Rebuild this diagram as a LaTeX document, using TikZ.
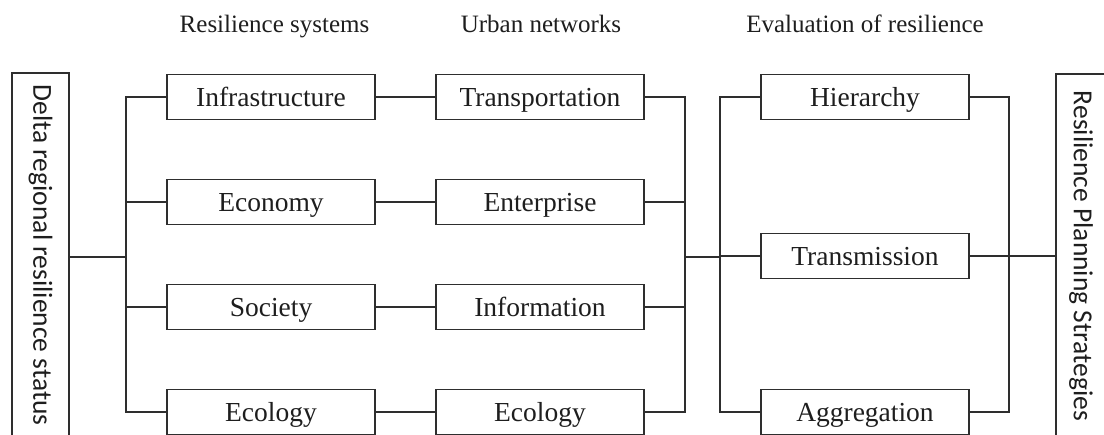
\documentclass[tikz,border=0pt]{standalone}
\usepackage{fontspec}
\setmainfont{Liberation Serif}
\newfontfamily\sidefont{Carlito}
\definecolor{ink}{HTML}{1E1E1E}
\definecolor{edge}{HTML}{2E2E2E}
\begin{document}
\begin{tikzpicture}[x=1pt,y=-1pt,
  box/.style={draw=edge,line width=1.8pt,minimum width=208pt,minimum height=45pt,
    inner sep=0pt,text height=18.2pt,text depth=0pt,
    font=\fontsize{27.5}{30}\selectfont,text=ink},
  sidebox/.style={draw=edge,line width=1.8pt,rotate=-90,inner sep=0pt,
    font=\sidefont\fontsize{27.5}{30}\selectfont,text=ink},
  head/.style={anchor=base,font=\fontsize{25}{28}\selectfont,text=ink},
  link/.style={draw=edge,line width=1.6pt},
  thin/.style={draw=edge,line width=1.1pt}]
\clip (0,0) rectangle (1104,435);
\fill[white] (0,0) rectangle (1104,435);

% column headings
\node[head] (h1) at (274.5,33) {Resilience systems};
\node[head] (h2) at (541,33) {Urban networks};
\node[head] (h3) at (865,33) {Evaluation of resilience};

% side boxes (rotated: their north side faces right, south faces left)
\node[sidebox,minimum width=364pt,minimum height=57pt] (delta) at (40.5,255)
  {Delta regional resilience status};
\node[sidebox,minimum width=364pt,minimum height=50pt] (strat) at (1081,256)
  {Resilience Planning Strategies};

% resilience systems
\node[box] (infra) at (271,97)  {Infrastructure};
\node[box] (econ)  at (271,202) {Economy};
\node[box] (soc)   at (271,307) {Society};
\node[box] (ecoA)  at (271,412) {Ecology};

% urban networks
\node[box] (trans) at (540,97)  {Transportation};
\node[box] (ent)   at (540,202) {Enterprise};
\node[box] (info)  at (540,307) {Information};
\node[box] (ecoB)  at (540,412) {Ecology};

% evaluation of resilience
\node[box] (hier)  at (865,97)  {Hierarchy};
\node[box] (tran)  at (865,256) {Transmission};
\node[box] (aggr)  at (865,412) {Aggregation};

% junction points of the trees
\coordinate (lt) at (126,257);
\coordinate (mt) at (685,257);
\coordinate (rt) at (720,257);
\coordinate (rr) at (1009,256);

% left tree
\draw[thin] (delta.north |- lt) -- (lt);
\draw[link] (infra.west) -| (lt);
\draw[link] (econ.west) -| (lt);
\draw[link] (soc.west) -| (lt);
\draw[link] (ecoA.west) -| (lt);

% systems to networks
\draw[thin] (infra.east) -- (trans.west);
\draw[thin] (econ.east) -- (ent.west);
\draw[thin] (soc.east) -- (info.west);
\draw[thin] (ecoA.east) -- (ecoB.west);

% networks tree
\draw[link] (trans.east) -| (mt);
\draw[link] (ent.east) -| (mt);
\draw[link] (info.east) -| (mt);
\draw[link] (ecoB.east) -| (mt);
\draw[thin] (mt) -- (rt);

% evaluation tree
\draw[link] (hier.west) -| (rt);
\draw[link] (aggr.west) -| (rt);
\draw[link] (tran.west) -- (tran.west -| rt);

% right tree
\draw[link] (hier.east) -| (rr);
\draw[link] (aggr.east) -| (rr);
\draw[link] (tran.east) -- (rr);
\draw[thin] (rr) -- (strat.south |- rr);
\end{tikzpicture}
\end{document}
